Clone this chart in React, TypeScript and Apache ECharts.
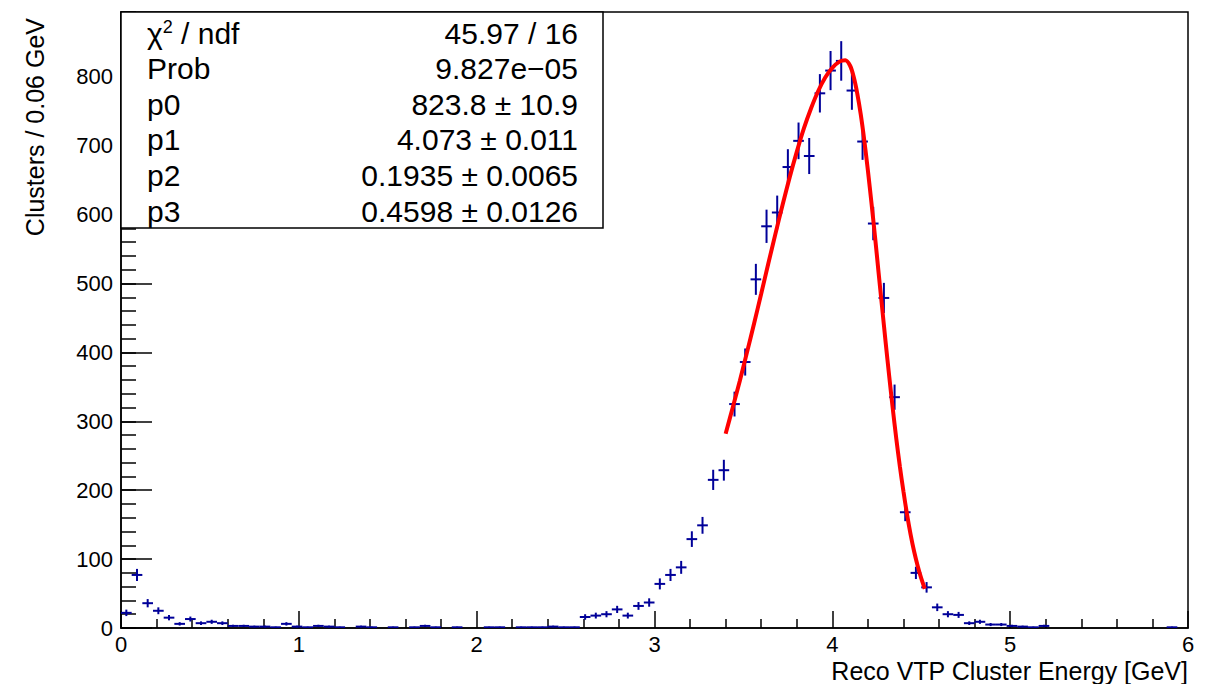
import React, { useEffect, useRef } from 'react';
import * as echarts from 'echarts';

// Histogram: 100 bins of 0.06 GeV from 0 to 6 GeV
const binWidth = 0.06;
const xMin = 0;
const xMax = 6;
const yMax = 894;

const counts = [
  22, 77, 36, 25, 15, 6, 13, 7, 9, 7,
  3, 3, 2, 2, 1, 6, 2, 1, 3, 2,
  1, 0, 2, 1, 0, 1, 0, 1, 3, 1,
  0, 1, 0, 0, 1, 1, 0, 1, 1, 1,
  2, 1, 1, 16, 18, 20, 27, 18, 32, 37,
  64, 77, 88, 129, 149, 215, 229, 325, 386, 506,
  583, 603, 669, 707, 685, 776, 809, 823, 780, 706,
  587, 479, 335, 168, 80, 59, 30, 20, 19, 7,
  9, 5, 5, 3, 2, 1, 3, 0, 0, 0,
  0, 0, 0, 0, 0, 0, 0, 0, 1, 0,
];

// Fit curve
const fitX = [
  3.40, 3.44, 3.48, 3.52, 3.56, 3.60, 3.64, 3.68, 3.72, 3.76,
  3.80, 3.84, 3.88, 3.92, 3.96, 4.00, 4.04, 4.073, 4.10, 4.12,
  4.14, 4.16, 4.18, 4.20, 4.22, 4.24, 4.26, 4.28, 4.30, 4.32,
  4.34, 4.36, 4.38, 4.40, 4.42, 4.44, 4.46, 4.48, 4.50, 4.52,
];
const fitY = [
  282, 320, 359, 400, 442, 485, 529, 572, 614, 654,
  691, 725, 754, 779, 799, 813, 822, 824, 816, 800,
  776, 745, 707, 664, 617, 568, 516, 465, 414, 365,
  318, 274, 234, 198, 165, 136, 111, 90, 72, 57,
];

const statLabels = ['Prob', 'p0', 'p1', 'p2', 'p3'];
const statValues = ['45.97 / 16', '9.827e\u221205', '823.8 \u00b1 10.9', '4.073 \u00b1 0.011', '0.1935 \u00b1 0.0065', '0.4598 \u00b1 0.0126'];

const xTitle = 'Reco VTP Cluster Energy [GeV]';
const yTitle = 'Clusters / 0.06 GeV';

const FONT = '"Liberation Sans", Arial, Helvetica, sans-serif';
const HIST_COLOR = '#000099';

export default function App() {
  const ref = useRef<HTMLDivElement>(null);

  useEffect(() => {
    if (!ref.current) return;
    const chart = echarts.init(ref.current, null, { renderer: 'svg' });

    const histData = counts
      .map((c, i) => [xMin + (i + 0.5) * binWidth, c])
      .filter((d) => d[1] > 0);
    const fitData = fitX.map((x, i) => [x, fitY[i]]);

    const boxX = 121, boxY = 12, boxW = 482, boxH = 216;
    const lineY0 = 33, lineStep = 35.6;
    const statFont = 30;

    const graphics: any[] = [
      {
        type: 'rect', z: 100,
        shape: { x: boxX, y: boxY, width: boxW, height: boxH },
        style: { fill: '#fff', stroke: '#000', lineWidth: 1.5 },
      },
      {
        type: 'text', z: 101, x: 147, y: lineY0,
        style: {
          text: '{a|\u03c7}{s|2}{a| / ndf}',
          verticalAlign: 'middle', align: 'left',
          rich: {
            a: { fontSize: statFont, fontFamily: FONT, fill: '#000' },
            s: { fontSize: 18, fontFamily: FONT, fill: '#000', verticalAlign: 'top' },
          },
        },
      },
      ...statLabels.map((t, i) => ({
        type: 'text', z: 101, x: 147, y: lineY0 + lineStep * (i + 1),
        style: { text: t, fontSize: statFont, fontFamily: FONT, fill: '#000', verticalAlign: 'middle', align: 'left' },
      })),
      ...statValues.map((t, i) => ({
        type: 'text', z: 101, x: 578, y: lineY0 + lineStep * i,
        style: { text: t, fontSize: statFont, fontFamily: FONT, fill: '#000', verticalAlign: 'middle', align: 'right' },
      })),
      {
        type: 'text', z: 101, x: 1188, y: 671,
        style: { text: xTitle, fontSize: 25, fontFamily: FONT, fill: '#000', verticalAlign: 'middle', align: 'right' },
      },
      {
        type: 'text', z: 101, x: 35, y: 18, rotation: Math.PI / 2,
        style: { text: yTitle, fontSize: 25, fontFamily: FONT, fill: '#000', verticalAlign: 'middle', align: 'right' },
      },
    ];

    const option: any = {
      animation: false,
      backgroundColor: '#fff',
      grid: {
        left: 121, right: 30, top: 12, bottom: 56,
        show: true, borderColor: '#000', borderWidth: 1.5, backgroundColor: 'transparent',
      },
      xAxis: {
        type: 'value', min: xMin, max: xMax, interval: 1,
        axisLine: { show: true, onZero: false, lineStyle: { color: '#000', width: 1.5 } },
        axisTick: { show: true, inside: true, length: 17, lineStyle: { color: '#000', width: 1.5 } },
        minorTick: { show: true, splitNumber: 5, length: 9, lineStyle: { color: '#000', width: 1.5 } },
        splitLine: { show: false },
        axisLabel: { fontSize: 22, fontFamily: FONT, color: '#000', margin: 5 },
      },
      yAxis: [
        {
          type: 'value', min: 0, max: yMax, interval: 100, position: 'left',
          axisLine: { show: true, onZero: false, lineStyle: { color: '#000', width: 1.5 } },
          axisTick: { show: true, inside: true, length: 31, lineStyle: { color: '#000', width: 1.5 } },
          splitLine: { show: false },
          axisLabel: { fontSize: 22, fontFamily: FONT, color: '#000', margin: 8, showMaxLabel: false },
        },
        {
          type: 'value', min: 0, max: yMax, interval: 20, position: 'left',
          axisLine: { show: false },
          axisTick: { show: true, inside: true, length: 15, lineStyle: { color: '#000', width: 1.5 } },
          splitLine: { show: false },
          axisLabel: { show: false },
        },
      ],
      series: [
        {
          type: 'custom',
          xAxisIndex: 0, yAxisIndex: 0,
          clip: true,
          encode: { x: 0, y: 1 },
          data: histData,
          renderItem: (params: any, api: any) => {
            const x = api.value(0);
            const y = api.value(1);
            const e = Math.sqrt(y);
            const pL = api.coord([x - binWidth / 2, y]);
            const pR = api.coord([x + binWidth / 2, y]);
            const pT = api.coord([x, y + e]);
            const pB = api.coord([x, Math.max(0, y - e)]);
            const st = { stroke: HIST_COLOR, lineWidth: 2 };
            return {
              type: 'group',
              children: [
                { type: 'line', shape: { x1: pL[0], y1: pL[1], x2: pR[0], y2: pR[1] }, style: st },
                { type: 'line', shape: { x1: pT[0], y1: pT[1], x2: pB[0], y2: pB[1] }, style: st },
              ],
            };
          },
        },
        {
          type: 'line',
          xAxisIndex: 0, yAxisIndex: 0,
          data: fitData,
          smooth: 0.3,
          showSymbol: false,
          symbol: 'none',
          lineStyle: { color: '#ff0000', width: 4 },
          z: 5,
        },
      ],
      graphic: graphics,
    };

    chart.setOption(option);
    return () => chart.dispose();
  }, []);

  return <div ref={ref} style={{ position: 'fixed', left: 0, top: 0, width: 1218, height: 684 }} />;
}
